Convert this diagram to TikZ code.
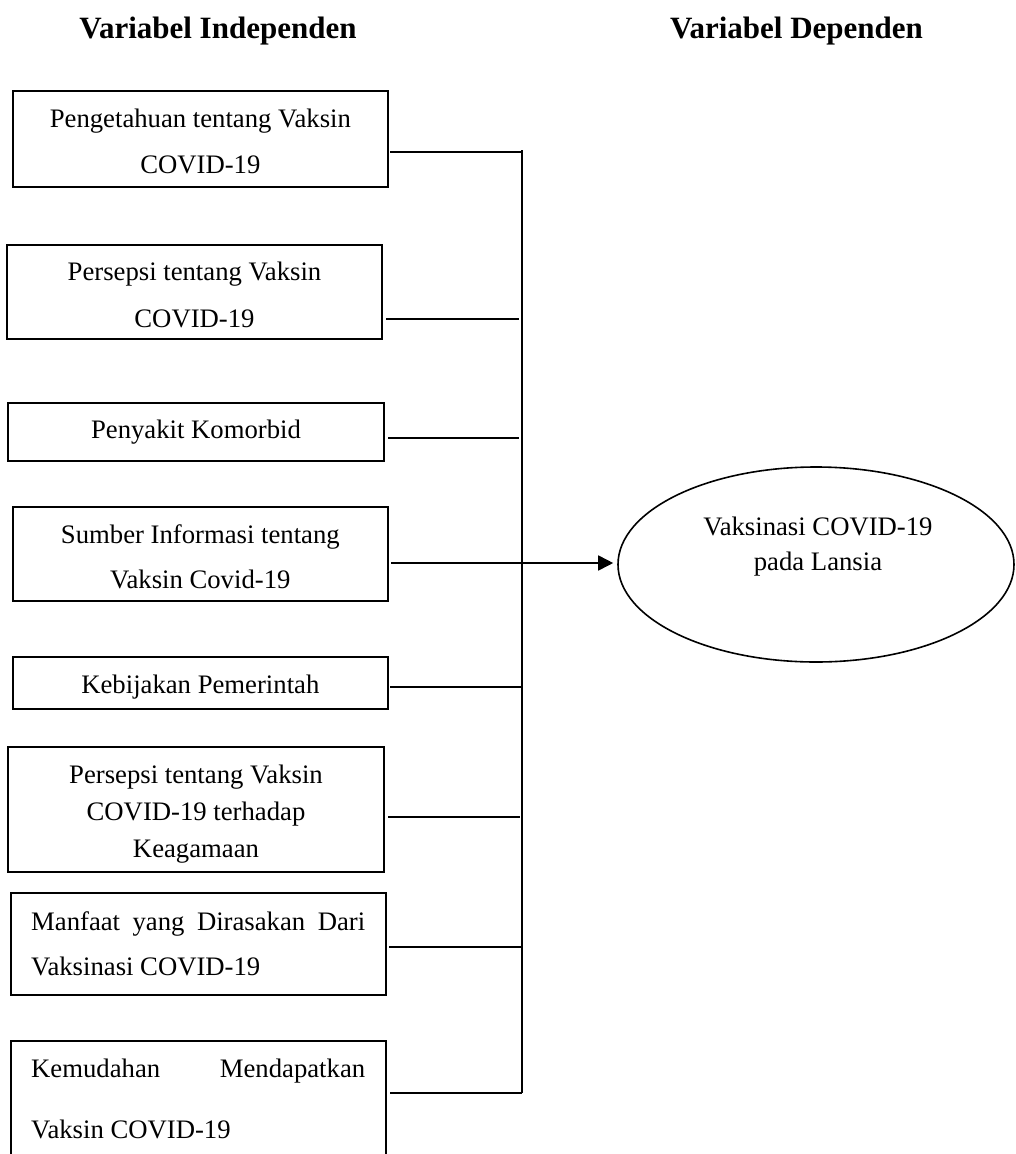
\documentclass[tikz,border=0pt]{standalone}
\usepackage{fontspec}
\setmainfont{Liberation Serif}
\usetikzlibrary{shapes.geometric,arrows.meta}
\begin{document}
\begin{tikzpicture}[x=1pt,y=-1pt,
  box/.style={draw,line width=2pt,inner sep=0pt,rectangle},
  txt/.style={anchor=base,inner sep=0pt,font=\fontsize{26.7}{32}\selectfont},
  ltxt/.style={anchor=base west,inner sep=0pt,font=\fontsize{26.7}{32}\selectfont},
  ttl/.style={anchor=base,inner sep=0pt,font=\fontsize{31}{36}\selectfont\bfseries},
  conn/.style={line width=1.7pt},
  oval/.style={draw,ellipse,line width=1.6pt,inner sep=0pt}]
\useasboundingbox (0,0) rectangle (1015,1154);
\clip (0,0) rectangle (1015,1154);
% titles
\node[ttl] (ti) at (218,38) {Variabel Independen};
\node[ttl] (td) at (796.5,38) {Variabel Dependen};
% boxes
\node[box,minimum width=375.3,minimum height=96] (b1) at (200.35,139) {};
\node[box,minimum width=375,minimum height=94] (b2) at (194.5,292) {};
\node[box,minimum width=376,minimum height=58] (b3) at (196,432) {};
\node[box,minimum width=375.3,minimum height=94] (b4) at (200.35,554) {};
\node[box,minimum width=375.3,minimum height=52] (b5) at (200.35,683) {};
\node[box,minimum width=376,minimum height=125] (b6) at (196,809.5) {};
\node[box,minimum width=375.3,minimum height=102] (b7) at (198.35,944) {};
\node[box,minimum width=375.3,minimum height=129] (b8) at (198.35,1105.5) {};
% texts
\node[txt] (t1a) at (b1.center |- 0,127) {Pengetahuan tentang Vaksin};
\node[txt] (t1b) at (b1.center |- 0,173) {COVID-19};
\node[txt] (t2a) at (b2.center |- 0,280) {Persepsi tentang Vaksin};
\node[txt] (t2b) at (b2.center |- 0,327) {COVID-19};
\node[txt] (t3a) at (b3.center |- 0,438) {Penyakit Komorbid};
\node[txt] (t4a) at (b4.center |- 0,543) {Sumber Informasi tentang};
\node[txt] (t4b) at (b4.center |- 0,588) {Vaksin Covid-19};
\node[txt] (t5a) at (b5.center |- 0,693) {Kebijakan Pemerintah};
\node[txt] (t6a) at (b6.center |- 0,783) {Persepsi tentang Vaksin};
\node[txt] (t6b) at (b6.center |- 0,820) {COVID-19 terhadap};
\node[txt] (t6c) at (b6.center |- 0,857) {Keagamaan};
\node[ltxt] (t7a) at (31,930) {\hbox to 334pt{Manfaat\hfill yang\hfill Dirasakan\hfill Dari}};
\node[ltxt] (t7b) at (31,975) {Vaksinasi COVID-19};
\node[ltxt] (t8a) at (31,1077) {\hbox to 334pt{Kemudahan\hfill Mendapatkan}};
\node[ltxt] (t8b) at (31,1138) {Vaksin COVID-19};
% dependent
\node[oval,minimum width=396,minimum height=195] (ell) at (816,564.5) {};
\node[txt] (e1) at (818,535) {Vaksinasi COVID-19};
\node[txt] (e2) at (818,570) {pada Lansia};
% bus coordinates
\coordinate (v1) at (522,152);
\coordinate (v2) at (522,319);
\coordinate (v3) at (522,438);
\coordinate (v4) at (522,563);
\coordinate (v5) at (522,687);
\coordinate (v6) at (522,817);
\coordinate (v7) at (522,947);
\coordinate (v8) at (522,1093);
% connectors
\draw[conn] ([xshift=1pt]v1 -| b1.east) -- (v1);
\draw[conn] ([xshift=3pt]v2 -| b2.east) -- ([xshift=-3pt]v2);
\draw[conn] ([xshift=3pt]v3 -| b3.east) -- ([xshift=-3pt]v3);
\draw[conn] ([xshift=1pt]v5 -| b5.east) -- (v5);
\draw[conn] ([xshift=3pt]v6 -| b6.east) -- ([xshift=-2pt]v6);
\draw[conn] ([xshift=2pt]v7 -| b7.east) -- (v7);
\draw[conn] ([xshift=3pt]v8 -| b8.east) -- (v8);
\draw[conn] ([yshift=2pt]v1) -- (v8);
\draw[conn,-{Triangle[length=15pt,width=15pt]},shorten >=4pt] ([xshift=2pt]v4 -| b4.east) -- (v4 -| ell.west);
\end{tikzpicture}
\end{document}
